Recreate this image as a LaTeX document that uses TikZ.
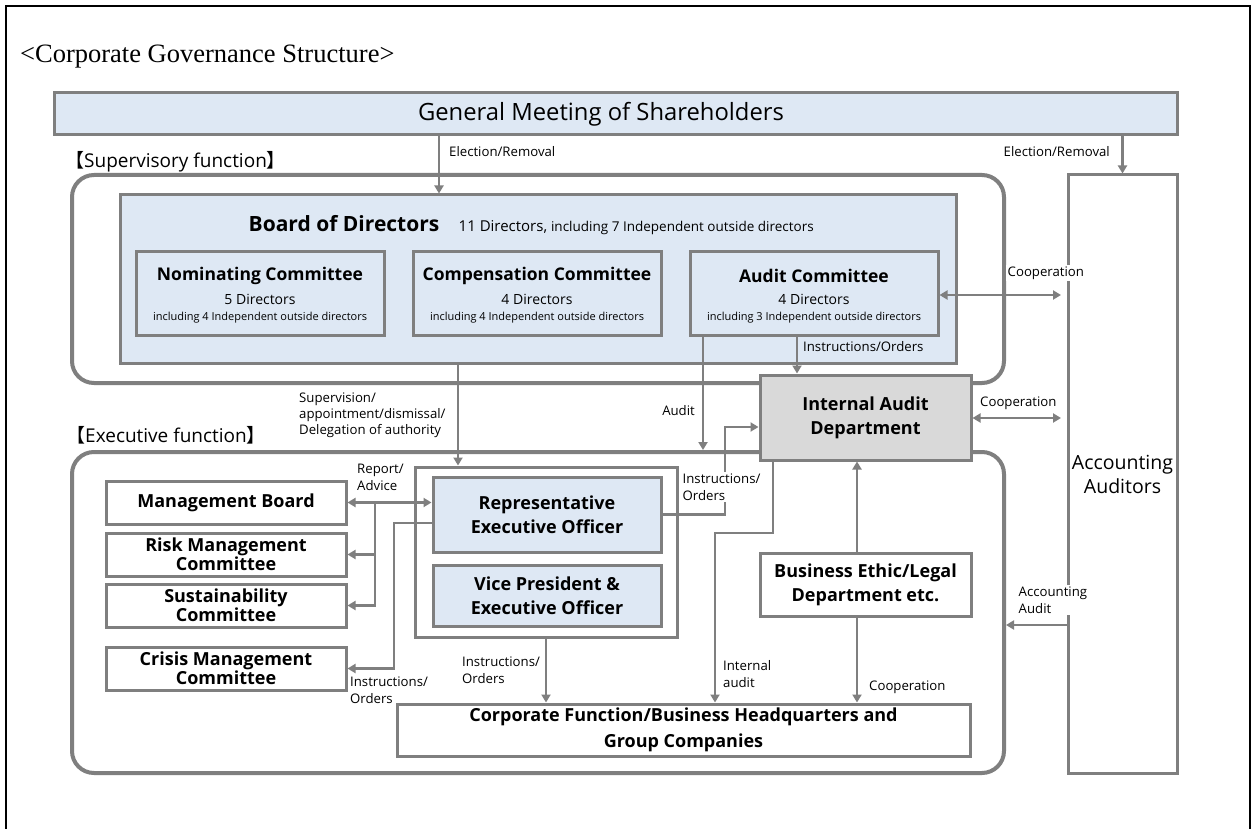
\documentclass[tikz,border=0pt]{standalone}
\usepackage{fontspec}
\setmainfont{Liberation Serif}
\newfontfamily\osans{Open Sans}
\newfontfamily\cjkf{Noto Sans CJK JP}
\usetikzlibrary{arrows.meta}
\definecolor{lc}{HTML}{7F7F7F}
\definecolor{bfill}{HTML}{DEE8F4}
\definecolor{gfill}{HTML}{D9D9D9}
\begin{document}
\begin{tikzpicture}[x=1pt,y=-1pt,
  bx/.style={draw=lc, line width=3pt, inner sep=0pt, align=center, font=\osans\bfseries\fontsize{18}{24}\selectfont},
  tightbx/.style={bx, font=\osans\bfseries\fontsize{18}{19}\selectfont},
  bluebox/.style={bx, fill=bfill},
  rbox/.style={draw=lc, line width=4pt, rounded corners=22pt, inner sep=0pt},
  ln/.style={draw=lc, line width=2.8pt},
  arr/.style={ln, -{Triangle[length=8pt,width=9pt]}},
  darr/.style={ln, {Triangle[length=8pt,width=9pt]}-{Triangle[length=8pt,width=9pt]}},
  lbl/.style={inner sep=0pt, align=left, font=\osans\fontsize{13.2}{17}\selectfont},
  wlbl/.style={lbl, fill=white, inner sep=1.5pt},
  ctitle/.style={inner sep=0pt, font=\osans\bfseries\fontsize{17.5}{20}\selectfont},
  cdir/.style={inner sep=0pt, font=\osans\fontsize{14}{16}\selectfont},
  csmall/.style={inner sep=0pt, font=\osans\fontsize{11}{13}\selectfont},
  seclbl/.style={anchor=west, inner sep=0pt, font=\osans\fontsize{19}{22}\selectfont}
]
\clip (0,0) rectangle (1256,829);
\fill[white] (0,0) rectangle (1256,829);
\draw[line width=2pt] (6,840) -- (6,6) -- (1250,6) -- (1250,840);

\node[anchor=west, inner sep=0pt, font=\fontsize{26.5}{30}\selectfont] (title) at (20,57) {<Corporate Governance Structure>};

% shareholders
\node[bluebox, minimum width=1123pt, minimum height=42pt] (gms) at (615.5,114) {};
\node[inner sep=0pt, font=\osans\fontsize{23.8}{28}\selectfont] (gmst) at (601,114) {General Meeting of Shareholders};

% supervisory
\node[seclbl] (supl) at (65,162) {{\cjkf 【}Supervisory function{\cjkf 】}};
\node[rbox, minimum width=932pt, minimum height=208pt] (sup) at (538,279) {};
\node[bluebox, minimum width=836pt, minimum height=168pt] (board) at (538,279) {};
\node[inner sep=0pt, font=\osans\bfseries\fontsize{21}{24}\selectfont] (bodt) at (344,224) {Board of Directors};
\node[anchor=base west, inner sep=0pt, font=\osans\fontsize{15}{18}\selectfont] (bodn) at ([xshift=19pt]bodt.base east) {11 Directors, {\fontsize{13.5}{16}\selectfont including 7 Independent outside directors}};

\node[bluebox, minimum width=248pt, minimum height=83pt] (nom) at (260,293.5) {};
\node[ctitle] (nomt) at (260,276) {Nominating Committee};
\node[cdir] (nomd) at (260,299) {5 Directors};
\node[csmall] (noms) at (260,318) {including 4 Independent outside directors};

\node[bluebox, minimum width=248pt, minimum height=83pt] (comp) at (537,293.5) {};
\node[ctitle] (compt) at (537,276) {Compensation Committee};
\node[cdir] (compd) at (537,299) {4 Directors};
\node[csmall] (comps) at (537,318) {including 4 Independent outside directors};

\node[bluebox, minimum width=248pt, minimum height=83pt] (aud) at (814,293.5) {};
\node[ctitle] (audt) at (814,276) {Audit Committee};
\node[cdir] (audd) at (814,299) {4 Directors};
\node[csmall] (auds) at (814,318) {including 3 Independent outside directors};

% executive
\node[seclbl] (exel) at (66,435) {{\cjkf 【}Executive function{\cjkf 】}};
\node[rbox, minimum width=932pt, minimum height=321pt] (exec) at (538,612.5) {};

\node[bx, font=\osans\fontsize{19.5}{24}\selectfont, minimum width=109pt, minimum height=598pt] (AA) at (1122.5,474) {Accounting\\Auditors};
\node[bx, fill=gfill, minimum width=211pt, minimum height=85pt] (IAD) at (865.5,417.5) {Internal Audit\\Department};

\node[draw=lc, line width=3pt, fill=white, minimum width=262pt, minimum height=170pt, inner sep=0pt] (grp) at (546,552) {};
\node[bluebox, minimum width=228pt, minimum height=75pt] (rep) at (547,514.5) {Representative\\Executive Officer};
\node[bluebox, minimum width=228pt, minimum height=61pt] (vp) at (547,595.5) {Vice President \&\\Executive Officer};

\node[bx, minimum width=240pt, minimum height=43pt] (mb) at (226,502.5) {Management Board};
\node[tightbx, minimum width=240pt, minimum height=43pt] (risk) at (226,554.5) {Risk Management\\Committee};
\node[tightbx, minimum width=240pt, minimum height=43pt] (sust) at (226,605.5) {Sustainability\\Committee};
\node[tightbx, minimum width=240pt, minimum height=43pt] (crisis) at (226,668.5) {Crisis Management\\Committee};

\node[bx, font=\osans\bfseries\fontsize{18}{26}\selectfont, minimum width=573pt, minimum height=52pt] (corp) at (683.5,730) {Corporate Function/Business Headquarters and\\Group Companies};
\node[bx, minimum width=211pt, minimum height=63pt] (be) at (865.5,584.5) {Business Ethic/Legal\\Department etc.};

\coordinate (coopA) at (1061,295);
\coordinate (coopB) at (1061,418);

% connectors
\draw[arr] (439,0 |- gms.south) -- (439,0 |- board.north);
\draw[arr] (1122.5,0 |- gms.south) -- (AA.north);
\draw[darr] (aud.east |- coopA) -- (coopA);
\draw[arr] (703,0 |- aud.south) -- (703,0 |- exec.north);
\draw[arr] (797,0 |- aud.south) -- (797,0 |- IAD.north);
\draw[darr] (IAD.east |- coopB) -- (coopB);
\draw[arr] (458,0 |- board.south) -- (458,0 |- grp.north);
\draw[arr] (rep.east) -- (725,0 |- rep.east) -- (725,427) -- (IAD.west |- 725,427);
\draw[darr] (mb.east) -- (rep.west |- mb.east);
\draw[arr] (375,0 |- mb.east) |- (sust.east);
\draw[arr] (375,0 |- risk.east) -- (risk.east);
\draw[arr] (rep.west |- 0,523) -- (394,523) |- (crisis.east);
\draw[arr] (grp.south) -- (grp.south |- corp.north);
\draw[arr] (773,0 |- IAD.south) -- (773,533) -- (715,533) -- (715,0 |- corp.north);
\draw[arr] (857,0 |- be.north) -- (857,0 |- IAD.south);
\draw[arr] (857,0 |- be.south) -- (857,0 |- corp.north);
\draw[arr] (AA.west |- 0,625) -- (exec.east |- 0,625);

% labels
\node[lbl, anchor=west] (l1) at (449,152) {Election/Removal};
\node[lbl, anchor=east] (l2) at (1110,152) {Election/Removal};
\node[wlbl, anchor=west] (l3) at (1006,273) {Cooperation};
\node[lbl, anchor=west] (l4) at (803,347) {Instructions/Orders};
\node[lbl, anchor=west, font=\osans\fontsize{13.2}{16}\selectfont] (l5) at (299,415) {Supervision/\\appointment/dismissal/\\Delegation of authority};
\node[lbl, anchor=east] (l6) at (695,411) {Audit};
\node[lbl, anchor=west] (l7) at (980,403) {Cooperation};
\node[lbl, anchor=west] (l8) at (357,477) {Report/\\Advice};
\node[wlbl, anchor=west] (l9) at (681,487) {Instructions/\\Orders};
\node[lbl, anchor=west] (l10) at (350,690) {Instructions/\\Orders};
\node[lbl, anchor=west] (l11) at (462,670) {Instructions/\\Orders};
\node[lbl, anchor=west] (l12) at (723,674) {Internal\\audit};
\node[lbl, anchor=west] (l13) at (869,687) {Cooperation};
\node[wlbl, anchor=west] (l14) at (1017,600) {Accounting\\Audit};
\end{tikzpicture}
\end{document}
